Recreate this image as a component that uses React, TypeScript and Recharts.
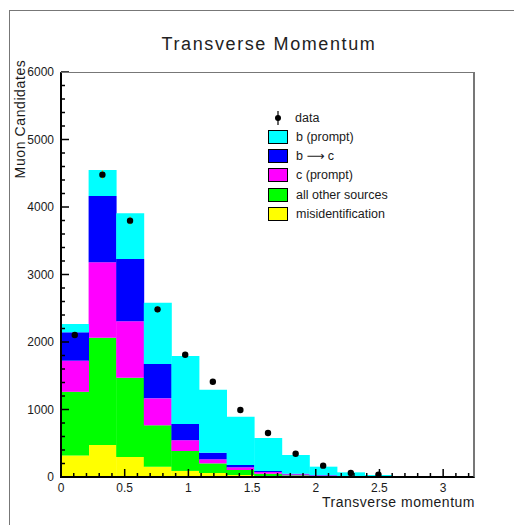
import { ComposedChart, Bar, Line, XAxis, YAxis, ErrorBar } from 'recharts';

// 15 bins of equal width from 0 to 3.25 GeV/c
const binLabels = [
  'b01', 'b02', 'b03', 'b04', 'b05', 'b06', 'b07', 'b08',
  'b09', 'b10', 'b11', 'b12', 'b13', 'b14', 'b15',
];
const binCenters = [
  0.108, 0.325, 0.542, 0.758, 0.975, 1.192, 1.408, 1.625,
  1.842, 2.058, 2.275, 2.492, 2.708, 2.925, 3.142,
];

// stacked MC contributions, bottom to top
const misid = [320, 474, 296, 153, 90, 59, 30, 15, 8, 4, 2, 1, 0, 0, 0];
const otherSources = [942, 1590, 1175, 613, 295, 143, 74, 34, 17, 10, 5, 3, 1, 1, 0];
const cPrompt = [461, 1116, 835, 399, 160, 60, 39, 25, 15, 8, 4, 2, 1, 0, 0];
const bToC = [421, 983, 924, 509, 240, 98, 35, 15, 9, 6, 4, 2, 1, 1, 0];
const bPrompt = [123, 385, 676, 909, 1008, 934, 716, 489, 277, 125, 54, 22, 10, 6, 4];

// measured data points
const dataCounts = [2104, 4479, 3798, 2484, 1812, 1412, 993, 652, 345, 168, 59, 35, null, null, null];

const yTicks = [
  0, 200, 400, 600, 800, 1000, 1200, 1400, 1600, 1800, 2000, 2200, 2400, 2600, 2800, 3000,
  3200, 3400, 3600, 3800, 4000, 4200, 4400, 4600, 4800, 5000, 5200, 5400, 5600, 5800, 6000,
];
const xTicks = [
  0, 0.1, 0.2, 0.3, 0.4, 0.5, 0.6, 0.7, 0.8, 0.9, 1, 1.1, 1.2, 1.3, 1.4, 1.5, 1.6,
  1.7, 1.8, 1.9, 2, 2.1, 2.2, 2.3, 2.4, 2.5, 2.6, 2.7, 2.8, 2.9, 3, 3.1, 3.2,
];

const series = [
  { key: 'bPrompt', name: 'b (prompt)', color: '#00ffff' },
  { key: 'bToC', name: 'b \u27f6 c', color: '#0000ff' },
  { key: 'cPrompt', name: 'c (prompt)', color: '#ff00ff' },
  { key: 'other', name: 'all other sources', color: '#00ff00' },
  { key: 'misid', name: 'misidentification', color: '#ffff00' },
];

const rows = binLabels.map((bin, i) => ({
  bin,
  center: binCenters[i],
  misid: misid[i],
  other: otherSources[i],
  cPrompt: cPrompt[i],
  bToC: bToC[i],
  bPrompt: bPrompt[i],
  data: dataCounts[i],
  err: dataCounts[i] == null ? 0 : Math.sqrt(dataCounts[i] as number),
}));

const FONT = '"Liberation Sans", "DejaVu Sans", Arial, sans-serif';
const TXT = '#1a1a1a';
const PLOT_LEFT = 61;
const PLOT_TOP = 72;
const PLOT_RIGHT = 475;
const PLOT_BOTTOM = 477;

const YTick = (props: any) => {
  const { y, payload } = props;
  const v = payload.value as number;
  const major = v % 1000 === 0;
  return (
    <g>
      <line x1={PLOT_LEFT} x2={PLOT_LEFT + (major ? 8 : 4)} y1={y} y2={y} stroke="#000" strokeWidth={1.5} />
      {major && (
        <text x={PLOT_LEFT - 7} y={y} dy={4} textAnchor="end" fontSize={12} fill={TXT} fontFamily={FONT}>
          {v}
        </text>
      )}
    </g>
  );
};

const XTick = (props: any) => {
  const { x, payload } = props;
  const v = payload.value as number;
  const major = Math.abs(v * 2 - Math.round(v * 2)) < 1e-6;
  return (
    <g>
      <line x1={x} x2={x} y1={PLOT_BOTTOM} y2={PLOT_BOTTOM - (major ? 8 : 4)} stroke="#000" strokeWidth={1.5} />
      {major && (
        <text x={x} y={PLOT_BOTTOM + 15} textAnchor="middle" fontSize={12} fill={TXT} fontFamily={FONT}>
          {Number(v.toFixed(1))}
        </text>
      )}
    </g>
  );
};

function LegendBox() {
  return (
    <div style={{ position: 'absolute', left: 268, top: 108, fontFamily: FONT, fontSize: 12.5, color: TXT }}>
      <div style={{ display: 'flex', alignItems: 'center', height: 19 }}>
        <svg width={20} height={16} style={{ marginRight: 7 }}>
          <line x1={10} x2={10} y1={1} y2={15} stroke="#000" strokeWidth={1.2} />
          <circle cx={10} cy={8} r={3} fill="#000" />
        </svg>
        <span>data</span>
      </div>
      {series.map((s) => (
        <div key={s.key} style={{ display: 'flex', alignItems: 'center', height: 19.3 }}>
          <div
            style={{
              width: 18,
              height: 12,
              background: s.color,
              border: '1px solid #000',
              marginRight: 8,
            }}
          />
          <span>{s.name}</span>
        </div>
      ))}
    </div>
  );
}

export default function App() {
  return (
    <div style={{ position: 'absolute', left: 0, top: 0, width: 514, height: 525, background: '#fff', overflow: 'hidden' }}>
      {/* canvas border */}
      <div style={{ position: 'absolute', left: 9, top: 10, width: 600, height: 600, borderLeft: '1px solid #777', borderTop: '1px solid #777' }} />
      <div
        style={{
          position: 'absolute',
          left: 0,
          width: 538,
          top: 34,
          textAlign: 'center',
          fontFamily: FONT,
          fontSize: 18,
          letterSpacing: 1.6,
          color: '#222',
        }}
      >
        Transverse Momentum
      </div>
      <div
        style={{
          position: 'absolute',
          left: 20,
          top: 119,
          transform: 'translate(-50%, -50%) rotate(-90deg)',
          whiteSpace: 'nowrap',
          fontFamily: FONT,
          fontSize: 14,
          letterSpacing: 0.6,
          color: TXT,
        }}
      >
        Muon Candidates
      </div>
      <div
        style={{
          position: 'absolute',
          right: 514 - PLOT_RIGHT,
          top: 494,
          fontFamily: FONT,
          fontSize: 14,
          letterSpacing: 0.5,
          color: TXT,
        }}
      >
        Transverse momentum
      </div>
      <ComposedChart
        width={514}
        height={525}
        data={rows}
        barCategoryGap={0}
        barGap={0}
        margin={{ top: PLOT_TOP, right: 514 - PLOT_RIGHT, bottom: 18, left: 16 }}
      >
        <XAxis xAxisId="cat" dataKey="bin" type="category" hide height={0} />
        <XAxis
          xAxisId="num"
          dataKey="center"
          type="number"
          domain={[0, 3.25]}
          ticks={xTicks}
          interval={0}
          height={30}
          tickLine={false}
          axisLine={false}
          tick={<XTick />}
          allowDataOverflow
        />
        <YAxis
          domain={[0, 6000]}
          ticks={yTicks}
          interval={0}
          width={45}
          tickLine={false}
          axisLine={false}
          tick={<YTick />}
          allowDataOverflow
        />
        {[...series].reverse().map((s) => (
          <Bar
            key={s.key}
            xAxisId="cat"
            dataKey={s.key}
            stackId="mc"
            fill={s.color}
            isAnimationActive={false}
          />
        ))}
        <Line
          xAxisId="num"
          dataKey="data"
          stroke="none"
          dot={{ r: 3.2, fill: '#000', stroke: '#000', strokeWidth: 0 }}
          activeDot={false}
          isAnimationActive={false}
        >
          <ErrorBar dataKey="err" width={0} stroke="#d6c400" strokeWidth={1} direction="y" />
        </Line>
      </ComposedChart>
      {/* frame: black axes on left and bottom, grey on top and right */}
      <div
        style={{
          position: 'absolute',
          left: PLOT_LEFT - 1,
          top: PLOT_TOP,
          width: PLOT_RIGHT - PLOT_LEFT + 1,
          height: PLOT_BOTTOM - PLOT_TOP + 1,
          borderTop: '1px solid #777',
          borderRight: '2px solid #777',
          borderLeft: '2px solid #000',
          borderBottom: '2px solid #000',
          boxSizing: 'border-box',
          pointerEvents: 'none',
        }}
      />
      <LegendBox />
    </div>
  );
}
